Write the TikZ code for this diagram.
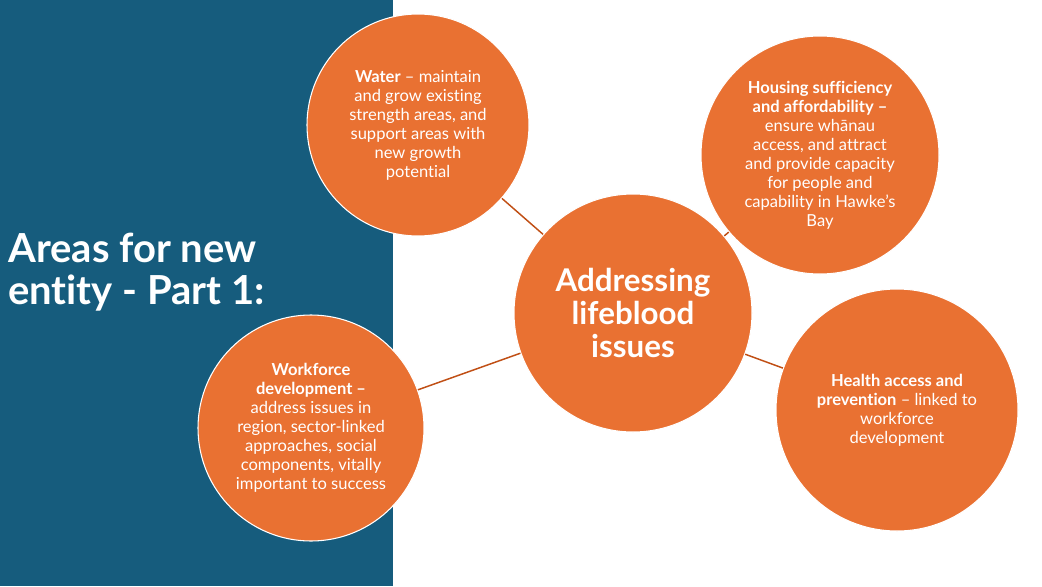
\documentclass[tikz,border=0pt]{standalone}
\usepackage{fontspec}
\setmainfont{Lato}[RawFeature=-liga]
\definecolor{panelblue}{HTML}{165C7D}
\definecolor{bubbleorange}{HTML}{E97132}
\definecolor{linkbrown}{HTML}{C04F15}

\tikzstyle{bubble}=[circle, fill=bubbleorange, draw=white, line width=0.8pt, text=white, align=center, inner sep=0pt, font=\fontsize{12.4}{14.25}\selectfont]
\tikzstyle{hub}=[bubble, font=\bfseries\fontsize{23.5}{25}\selectfont]
\tikzstyle{link}=[linkbrown, line width=1.1pt]

\begin{document}
\begin{tikzpicture}[x=0.75pt, y=-0.75pt]
      \useasboundingbox (0,0) rectangle (1042,586);
      \fill[panelblue] (0,0) rectangle (393,586);
      \node[anchor=west, inner sep=0pt, text=white, align=left, font=\bfseries\fontsize{30}{31}\selectfont] (title) at (8,272) {Areas for new\\entity - Part 1:};

      \node[hub, minimum size=178.5pt] (hub) at (633,313) {Addressing\\lifeblood\\issues};
      \node[bubble, minimum size=166.5pt] (water) at (418,125) {\textbf{Water} -- maintain\\and grow existing\\strength areas, and\\support areas with\\new growth\\potential};
      \node[bubble, minimum size=178.5pt] (housing) at (820,155) {\textbf{Housing sufficiency}\\\textbf{and affordability --}\\ensure whānau\\access, and attract\\and provide capacity\\for people and\\capability in Hawke’s\\Bay};
      \node[bubble, minimum size=181.5pt] (health) at (897,410) {\textbf{Health access and}\\\textbf{prevention} -- linked to\\workforce\\development};
      \node[bubble, minimum size=169.5pt] (workforce) at (311,428) {\textbf{Workforce}\\\textbf{development --}\\address issues in\\region, sector-linked\\approaches, social\\components, vitally\\important to success};

      \draw[link] (hub) -- (water);
      \draw[link] (hub) -- (housing);
      \draw[link] (hub) -- (health);
      \draw[link] (hub) -- (workforce);
    \end{tikzpicture}
\end{document}
